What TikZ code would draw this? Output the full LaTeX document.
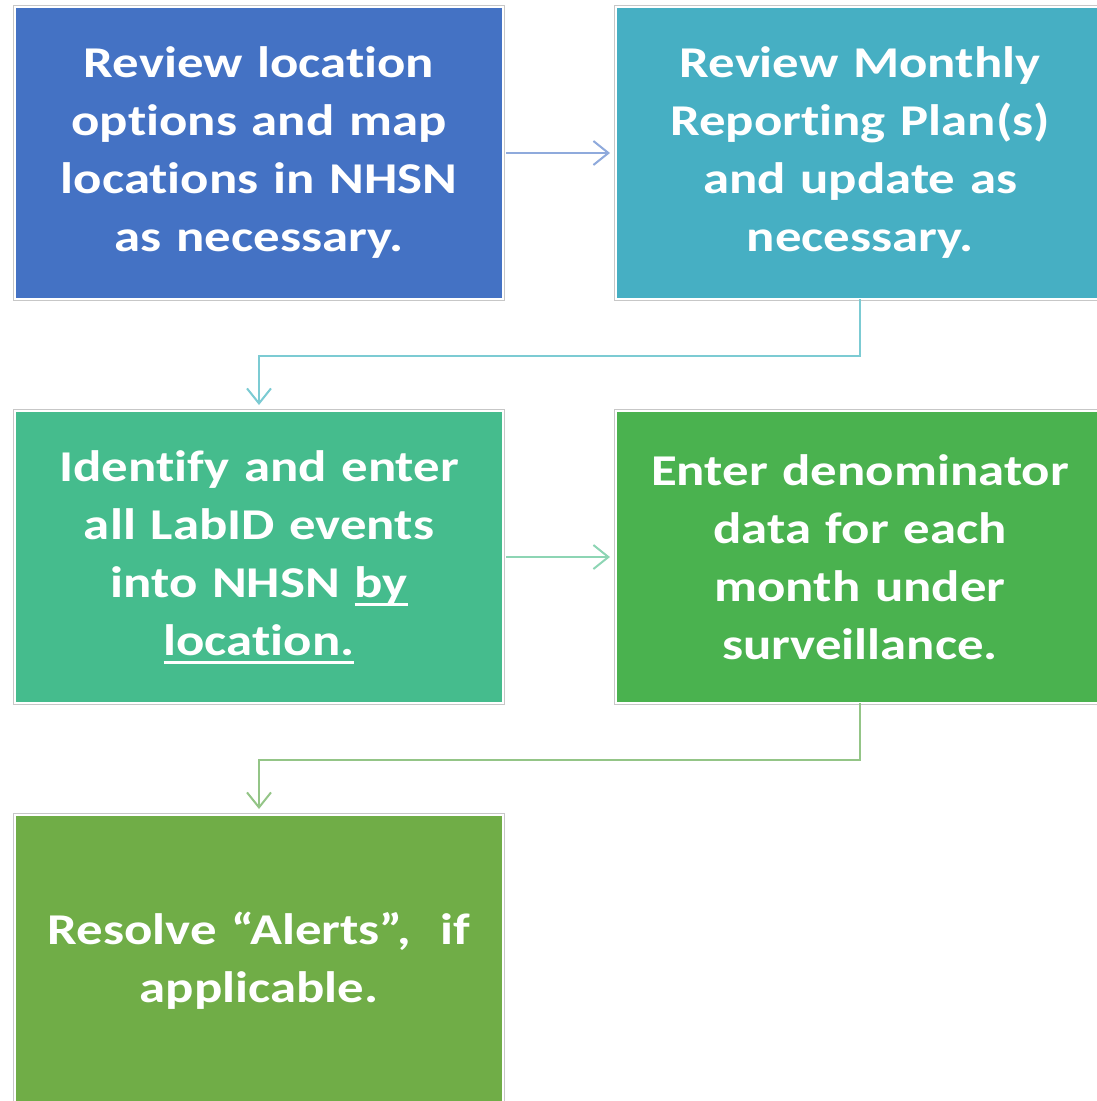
\documentclass[tikz,border=0pt]{standalone}
\usepackage{fontspec}
\setmainfont{Carlito}[FakeStretch=1.2, WordSpace=0.75,
  Ligatures={NoCommon,NoContextual}]
\usetikzlibrary{positioning,arrows.meta}

% box fills
\definecolor{stepblue}{HTML}{4472C4}
\definecolor{stepteal}{HTML}{46AFC3}
\definecolor{stepmint}{HTML}{45BC8D}
\definecolor{stepgreen}{HTML}{4AB24F}
\definecolor{stepolive}{HTML}{70AD47}
% connector colours
\definecolor{lineblue}{HTML}{8FAADC}
\definecolor{lineteal}{HTML}{7CCBD3}
\definecolor{linemint}{HTML}{8DD5B4}
\definecolor{linegreen}{HTML}{94C587}

% thick underline set a little below the baseline
\newcommand{\ulword}[1]{\leavevmode\setbox0\hbox{#1}%
  \rlap{\rule[-0.2em]{\wd0}{0.065em}}\box0}

\tikzset{
  stepbox/.style={rectangle, minimum width=488pt, minimum height=292pt,
    text width=470pt, align=center, text=white, outer sep=0pt,
    font=\fontsize{44}{58}\selectfont\bfseries,
    draw=white, line width=2.5pt,
    preaction={draw=black!22, line width=4.5pt}},
  flow/.style={line width=2pt, -{Straight Barb[length=15pt,width=24pt]}},
}

\begin{document}
\begin{tikzpicture}[node distance=112pt and 113pt]
  \useasboundingbox (0,0) rectangle (1097pt,-1101pt);

  \node[stepbox, fill=stepblue] (map) at (259pt,-153pt)
    {Review location\\ options and map\\ locations in NHSN\\ as necessary.};
  \node[stepbox, fill=stepteal, right=of map] (plan)
    {Review Monthly\\ Reporting Plan(s)\\ and update as\\ necessary.};
  \node[stepbox, fill=stepmint, below=of map] (labid)
    {Identify and enter\\ all LabID events\\ into NHSN \ulword{by}\\ \ulword{location.}};
  \node[stepbox, fill=stepgreen, right=of labid] (denom)
    {Enter denominator\\ data for each\\ month under\\ surveillance.};
  \node[stepbox, fill=stepolive, below=of labid] (alerts)
    {Resolve “Alerts”,~ if\\ applicable.};

  \draw[flow, lineblue, shorten <=3pt, shorten >=6pt] (map) -- (plan);
  \draw[flow, lineteal, shorten >=6pt] (plan.south) -- ++(0,-57pt) -| (labid.north);
  \draw[flow, linemint, shorten <=3pt, shorten >=6pt] (labid) -- (denom);
  \draw[flow, linegreen, shorten >=6pt] (denom.south) -- ++(0,-57pt) -| (alerts.north);
\end{tikzpicture}
\end{document}
